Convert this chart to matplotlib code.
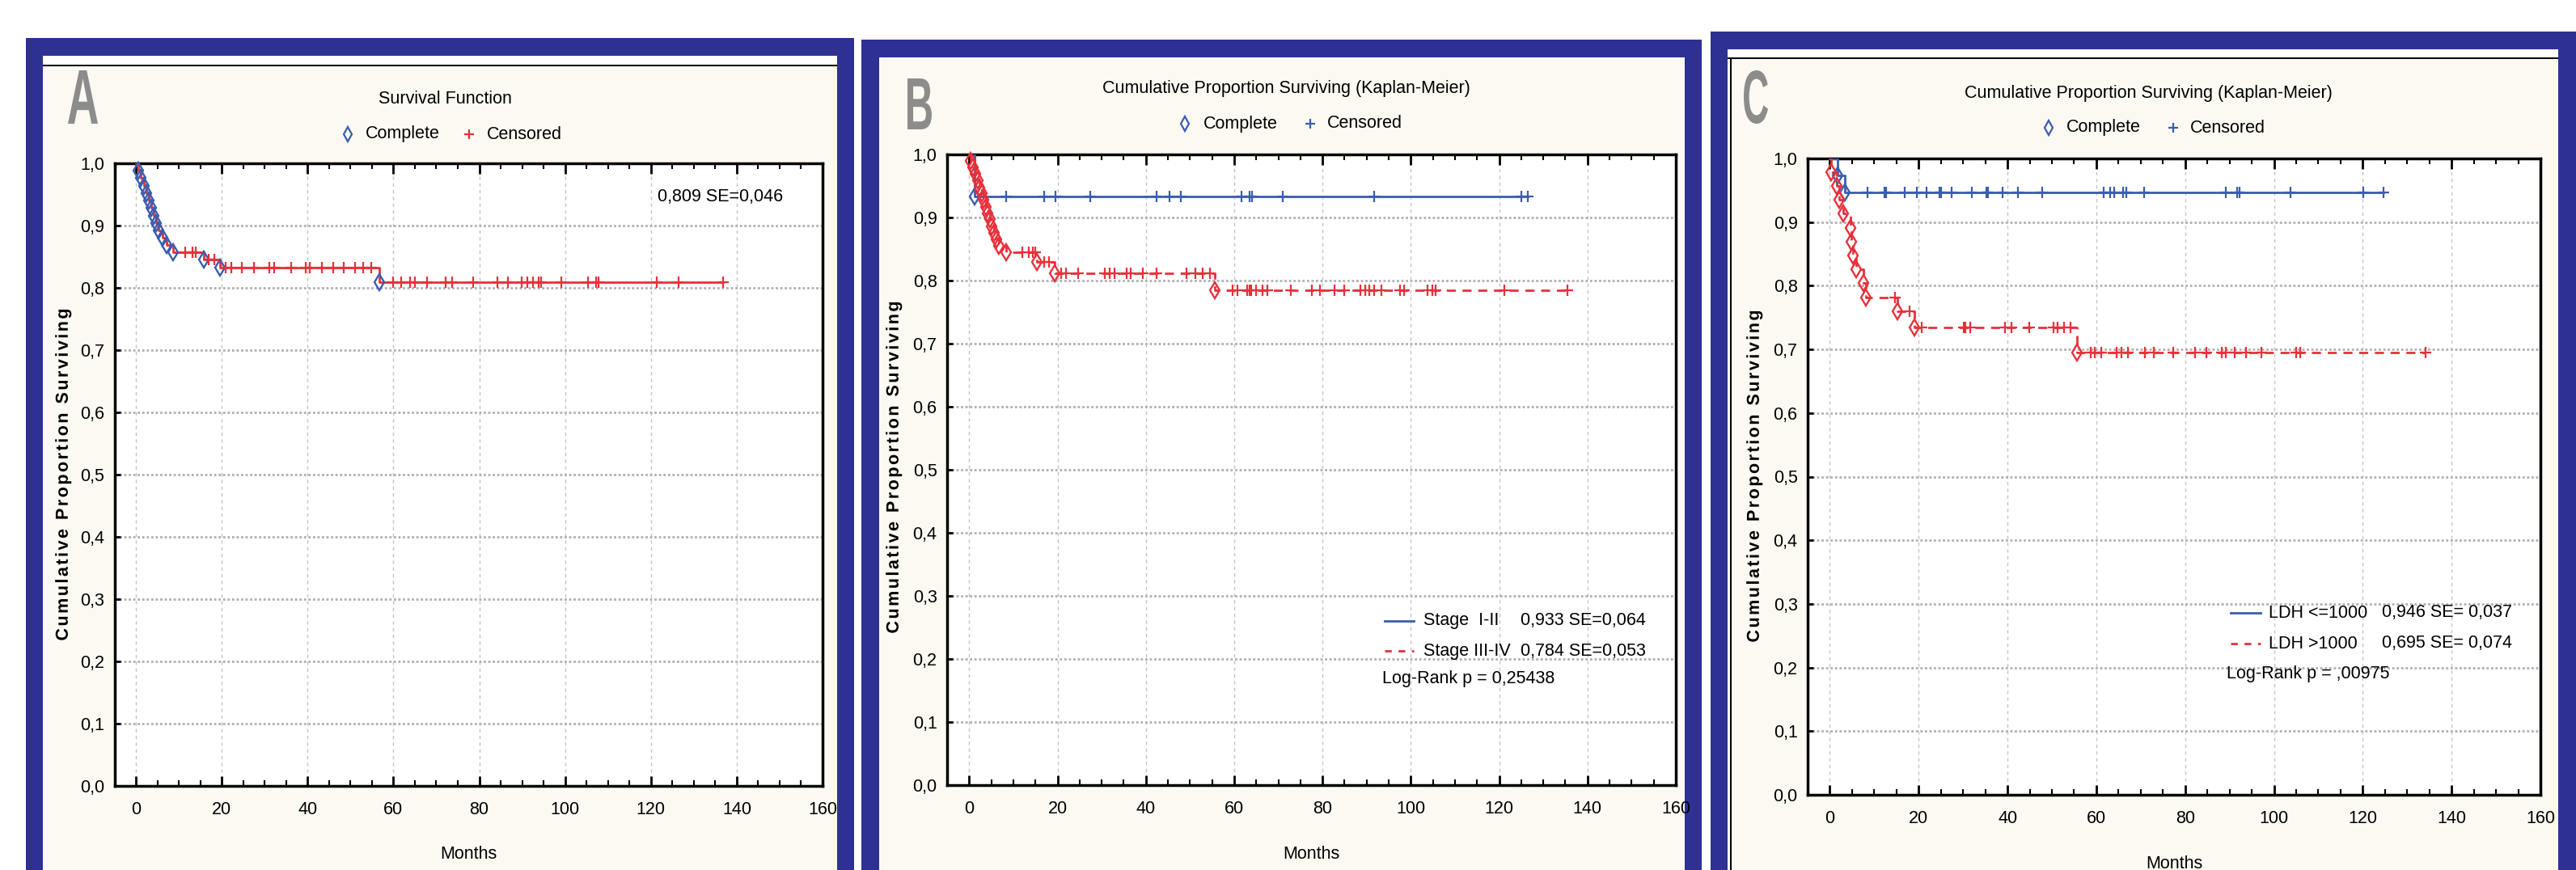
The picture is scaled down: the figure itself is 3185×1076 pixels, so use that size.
import numpy as np
from matplotlib import pyplot as plt
from matplotlib.font_manager import FontProperties
from matplotlib.lines import Line2D
from matplotlib.patches import PathPatch, Rectangle
from matplotlib.path import Path
from matplotlib.textpath import TextPath
from matplotlib.transforms import Affine2D
from matplotlib.ticker import MultipleLocator

plt.rcParams["font.family"] = ["Liberation Sans", "DejaVu Sans"]

W, H, DPI = 3185, 1076, 100

NAVY = "#2E3192"
CREAM = "#FBF9F2"
BLUE = "#3A5DAE"
RED = "#E8303A"
GRAY_LETTER = "#8C8C8C"
FS = 15.5

# axis ticks
x_ticks = [0, 20, 40, 60, 80, 100, 120, 140, 160]
x_tick_labels = ["0", "20", "40", "60", "80", "100", "120", "140", "160"]
y_ticks = [0.0, 0.1, 0.2, 0.3, 0.4, 0.5, 0.6, 0.7, 0.8, 0.9, 1.0]
y_tick_labels = ["0,0", "0,1", "0,2", "0,3", "0,4", "0,5", "0,6", "0,7", "0,8", "0,9", "1,0"]

# panel A - whole cohort
a_event_t = [0.5, 1.2, 1.9, 2.4, 3.0, 3.5, 4.2, 4.8, 5.3, 6.2, 7.2, 8.6, 15.8, 19.6, 56.7]
a_event_s = [0.988, 0.976, 0.964, 0.952, 0.940, 0.928, 0.916, 0.904, 0.892, 0.880,
             0.869, 0.857, 0.845, 0.832, 0.809]
a_censor_t = [11.5, 13.2, 14.0, 17.0, 18.2, 20.9, 22.2, 24.6, 27.5, 31.0, 32.2, 36.1,
              39.5, 40.6, 43.3, 45.9, 48.4, 51.0, 52.9, 54.8, 59.9, 61.9, 63.8, 65.1,
              67.9, 72.1, 73.6, 78.6, 84.3, 86.7, 89.9, 91.2, 92.6, 93.9, 94.5, 99.2,
              105.4, 107.3, 107.8, 121.4, 126.4, 136.8]

# panel B - stage I-II / stage III-IV
b1_event_t = [1.3]
b1_event_s = [0.933]
b1_censor_t = [8.3, 17.0, 19.6, 27.5, 42.4, 45.3, 47.9, 61.6, 63.4, 64.1, 71.0, 91.7,
               125.0, 126.5]
b2_event_t = [0.3, 0.8, 1.5, 1.9, 2.3, 2.8, 3.3, 3.8, 4.2, 4.7, 5.1, 5.7, 6.2, 6.8, 8.3,
              15.4, 19.3, 55.7]
b2_event_s = [0.990, 0.979, 0.969, 0.959, 0.948, 0.938, 0.928, 0.917, 0.907, 0.897,
              0.886, 0.876, 0.866, 0.855, 0.845, 0.830, 0.811, 0.784]
b2_censor_t = [12.0, 13.5, 14.4, 15.0, 17.0, 18.1, 20.9, 21.9, 24.6, 30.8, 31.9, 32.9,
               35.6, 36.6, 39.3, 42.4, 49.2, 51.3, 52.9, 54.5, 59.7, 60.8, 62.9, 63.4,
               63.9, 64.9, 66.5, 67.6, 72.8, 77.6, 79.4, 82.8, 84.9, 88.5, 89.6, 90.6,
               91.7, 93.3, 97.5, 98.5, 103.7, 104.8, 105.7, 121.1, 135.5]

# panel C - LDH <=1000 / LDH >1000
c1_event_t = [1.8, 3.3]
c1_event_s = [0.973, 0.946]
c1_censor_t = [8.4, 12.3, 12.6, 16.9, 19.5, 21.7, 24.6, 25.1, 27.4, 32.0, 35.3, 35.7,
               38.9, 42.4, 47.8, 61.6, 63.1, 64.1, 66.1, 66.8, 70.8, 89.2, 91.7, 92.2,
               103.7, 120.1, 124.7]
c2_event_t = [0.2, 1.5, 2.1, 3.0, 4.6, 4.9, 5.2, 6.0, 7.5, 8.2, 15.3, 19.1, 55.7]
c2_event_s = [0.978, 0.957, 0.935, 0.913, 0.891, 0.869, 0.847, 0.826, 0.804, 0.782,
              0.760, 0.734, 0.695]
c2_censor_t = [14.7, 18.0, 20.7, 30.1, 30.6, 31.6, 39.4, 40.9, 44.9, 50.3, 51.3, 52.8,
               54.2, 58.7, 59.7, 61.1, 64.6, 65.6, 67.1, 71.0, 73.0, 77.4, 82.3, 84.8,
               88.3, 89.2, 91.2, 93.7, 97.1, 105.0, 106.0, 134.2]

fig = plt.figure(figsize=(W / DPI, H / DPI), dpi=DPI)
fig.patch.set_facecolor("white")


def rect(x0, y0, x1, y1, color, z=-3):
    fig.add_artist(Rectangle((x0 / W, 1 - y1 / H), (x1 - x0) / W, (y1 - y0) / H,
                             transform=fig.transFigure, fc=color, ec="none", zorder=z))


def ftext(x, y, s, **kw):
    kw.setdefault("fontsize", FS)
    kw.setdefault("va", "center")
    fig.text(x / W, 1 - y / H, s, **kw)


def fmarker(x, y, marker, color):
    fig.add_artist(Line2D([x / W], [1 - y / H], transform=fig.transFigure, ls="none",
                          marker=marker, ms=9, mfc="none", mec=color, mew=1.6))


def fline(x0, x1, y, color, ls):
    fig.add_artist(Line2D([x0 / W, x1 / W], [1 - y / H, 1 - y / H],
                          transform=fig.transFigure, color=color, lw=2, ls=ls))


def ink_width(s, size, prop):
    return TextPath((0, 0), s, size=size, prop=prop).get_extents().width


def tracked_label(s, cx, cy, tracking):
    # rotated bold label with the wide letter spacing of the original
    prop = FontProperties(family="Liberation Sans", weight="bold")
    size = FS * DPI / 72
    base = ink_width("xx", size, prop)
    paths, x = [], 0.0
    for ch in s:
        if ch != " ":
            paths.append(TextPath((x, 0), ch, size=size, prop=prop))
        x += ink_width("x" + ch + "x", size, prop) - base + tracking
    x -= tracking
    path = Path.make_compound_path(*paths)
    tr = Affine2D().translate(-x / 2, -0.36 * size).rotate_deg(90).translate(cx, H - cy)
    fig.add_artist(PathPatch(path, transform=tr, fc="black", ec="none", zorder=5))


def big_letter(ch, left, top, bottom, width):
    prop = FontProperties(family="Liberation Sans", weight="bold")
    path = TextPath((0, 0), ch, size=100, prop=prop)
    ext = path.get_extents()
    tr = (Affine2D().translate(-ext.x0, -ext.y0)
          .scale(width / ext.width, (bottom - top) / ext.height)
          .translate(left, H - bottom))
    fig.add_artist(PathPatch(path, transform=tr, fc=GRAY_LETTER, ec="none", zorder=5))


def level_at(event_t, event_s, t):
    idx = np.searchsorted(event_t, t, side="right")
    return np.r_[1.0, event_s][idx]


def draw_curve(ax, event_t, event_s, censor_t, line_c, comp_c, cens_c, dashed):
    t = np.r_[0.0, event_t, max(censor_t)]
    s = np.r_[1.0, event_s, event_s[-1]]
    ls = (0, (4, 3)) if dashed else "-"
    ax.step(t, s, where="post", color=line_c, lw=2, ls=ls, zorder=3)
    ax.plot(event_t, event_s, ls="none", marker="d", ms=10, mfc="none", mec=comp_c,
            mew=1.7, zorder=4, clip_on=False)
    ax.plot(censor_t, level_at(event_t, event_s, censor_t), ls="none", marker="+", ms=10,
            mec=cens_c, mew=1.6, zorder=4, clip_on=False)


def make_axes(l, t, r, b):
    ax = fig.add_axes([l / W, 1 - b / H, (r - l) / W, (b - t) / H])
    ax.set_facecolor("white")
    ax.set_xlim(-5, 160)
    ax.set_ylim(0, 1.0)
    ax.set_xticks(x_ticks, x_tick_labels)
    ax.set_yticks(y_ticks, y_tick_labels)
    ax.xaxis.set_minor_locator(MultipleLocator(5))
    ax.tick_params(axis="x", which="major", direction="in", top=True, bottom=True,
                   length=9, width=2, pad=14, labelsize=FS)
    ax.tick_params(axis="x", which="minor", direction="in", top=True, bottom=True,
                   length=5, width=1.5)
    ax.tick_params(axis="y", which="major", direction="in", left=True, right=False,
                   length=5, width=2, pad=9, labelsize=FS)
    for sp in ax.spines.values():
        sp.set_linewidth(2.5)
        sp.set_color("black")
    ax.grid(axis="x", color="#c4c4c4", lw=1, ls=(0, (3, 3)))
    ax.grid(axis="y", color="#b0b0b0", lw=2, ls=(0, (1, 1)))
    ax.set_axisbelow(True)
    ftext((l + r) / 2, b + 85, "Months", ha="center")
    return ax


# ---------------- panel frames
rect(32, 47, 1056, H + 5, NAVY)
rect(53, 69, 1035, H + 5, CREAM, z=-2)
rect(53, 69, 1035, 80, "white", z=-1)
rect(53, 80, 1035, 82, "black", z=-1)

rect(1065, 49, 2104, H + 5, NAVY)
rect(1087, 71, 2083, H + 5, CREAM, z=-2)
rect(1087, 71, 2083, 73, "white", z=-1)

rect(2115, 39, W + 5, H + 5, NAVY)
rect(2136, 61, 3163, H + 5, CREAM, z=-2)
rect(2136, 61, 3163, 71, "white", z=-1)
rect(2136, 71, 3163, 73, "black", z=-1)
rect(2136, 73, 2139, H + 5, "white", z=-1)
rect(2139, 71, 2141, H + 5, "black", z=-1)

# ---------------- panel A
ax = make_axes(141.5, 202, 1017, 972)
draw_curve(ax, a_event_t, a_event_s, a_censor_t, RED, BLUE, RED, False)
ftext(550, 122, "Survival Function", ha="center")
fmarker(430, 166, "d", BLUE)
ftext(452, 166, "Complete")
fmarker(580, 166, "+", RED)
ftext(602, 166, "Censored")
ftext(813, 243, "0,809 SE=0,046")
tracked_label("Cumulative Proportion Surviving", 76, 587, 2.5)
big_letter("A", 84, 87, 153, 37)

# ---------------- panel B
ax = make_axes(1171, 191, 2072, 971)
draw_curve(ax, b1_event_t, b1_event_s, b1_censor_t, BLUE, BLUE, BLUE, False)
draw_curve(ax, b2_event_t, b2_event_s, b2_censor_t, RED, RED, RED, True)
ftext(1590, 110, "Cumulative Proportion Surviving (Kaplan-Meier)", ha="center")
fmarker(1465, 153, "d", BLUE)
ftext(1488, 153, "Complete")
fmarker(1620, 153, "+", BLUE)
ftext(1641, 153, "Censored")
fline(1712, 1748, 768, BLUE, "-")
ftext(1760, 768, "Stage  I-II")
ftext(1880, 768, "0,933 SE=0,064")
fline(1712, 1748, 805, RED, (0, (3, 3)))
ftext(1760, 805, "Stage III-IV")
ftext(1880, 805, "0,784 SE=0,053")
ftext(1709, 840, "Log-Rank p = 0,25438")
tracked_label("Cumulative Proportion Surviving", 1103, 578, 2.5)
big_letter("B", 1122, 97, 160, 30)

# ---------------- panel C
ax = make_axes(2235, 196, 3141, 983)
draw_curve(ax, c1_event_t, c1_event_s, c1_censor_t, BLUE, BLUE, BLUE, False)
draw_curve(ax, c2_event_t, c2_event_s, c2_censor_t, RED, RED, RED, True)
ftext(2656, 115, "Cumulative Proportion Surviving (Kaplan-Meier)", ha="center")
fmarker(2533, 158, "d", BLUE)
ftext(2555, 158, "Complete")
fmarker(2687, 158, "+", BLUE)
ftext(2708, 158, "Censored")
fline(2758, 2795, 758, BLUE, "-")
ftext(2805, 758, "LDH <=1000")
ftext(2945, 758, "0,946 SE= 0,037")
fline(2758, 2795, 796, RED, (0, (3, 3)))
ftext(2805, 796, "LDH >1000")
ftext(2945, 796, "0,695 SE= 0,074")
ftext(2753, 833, "Log-Rank p = ,00975")
tracked_label("Cumulative Proportion Surviving", 2167, 589, 2.5)
big_letter("C", 2156, 87, 153, 30)

fig.savefig("out.png", dpi=DPI)
